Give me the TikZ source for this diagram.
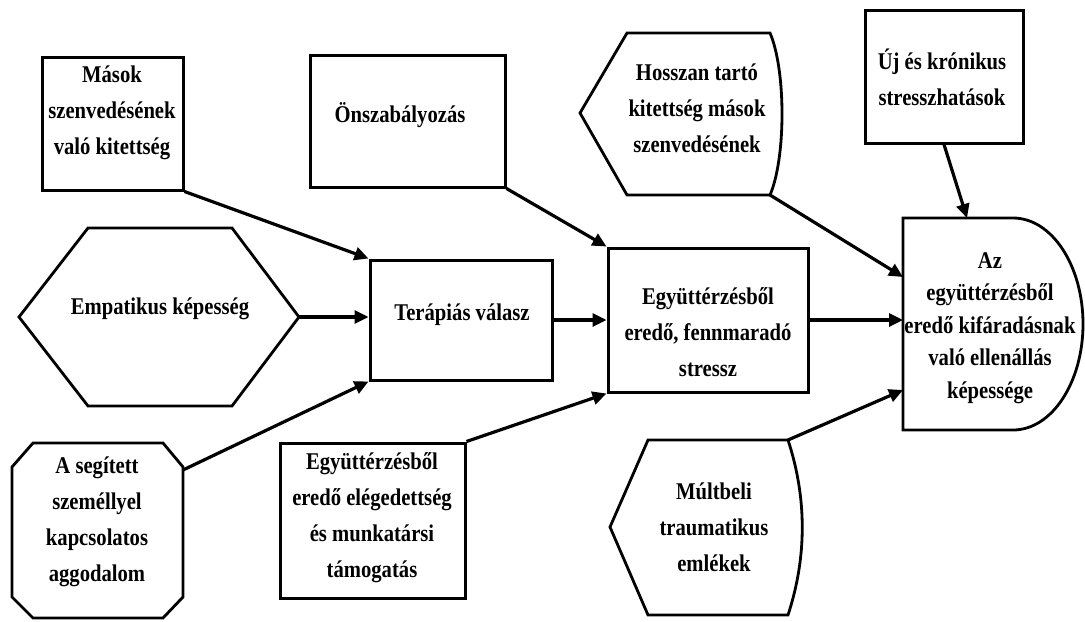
\documentclass[tikz,border=0pt]{standalone}
\usepackage{fontspec}
\setmainfont{Liberation Serif}[FakeStretch=0.86]
\usetikzlibrary{arrows.meta}
\tikzset{
  box/.style={draw, line width=1.5pt, inner sep=0pt},
  shp/.style={line width=1.4pt},
  txt/.style={align=center, inner sep=0pt, font=\bfseries\fontsize{12}{18}\selectfont},
  arr/.style={line width=1.6pt, -{Triangle[length=7pt,width=6.5pt]}},
}
\begin{document}
\begin{tikzpicture}[x=0.5pt,y=-0.5pt]
\useasboundingbox (0,0) rectangle (1085,621);
\node[box, minimum width=70.5pt, minimum height=66.5pt] (masok) at (112.5,123.5) {};
\node[txt] (masok-t) at (112,113) {Mások\\szenvedésének\\való kitettség};
\node[box, minimum width=97.5pt, minimum height=66pt] (onsz) at (407.5,121) {};
\node[txt] (onsz-t) at (400,115) {Önszabályozás};
\node[box, minimum width=79pt, minimum height=66.5pt] (uj) at (944,76.5) {};
\node[txt] (uj-t) at (942,77) {Új és krónikus\\stresszhatások};
\node[box, minimum width=91pt, minimum height=60pt] (terap) at (461,320) {};
\node[txt] (terap-t) at (462,315) {Terápiás válasz};
\node[box, minimum width=100pt, minimum height=72pt] (egyutt) at (708,320) {};
\node[txt] (egyutt-t) at (708,332) {Együttérzésből\\eredő, fennmaradó\\stressz};
\node[box, minimum width=92.5pt, minimum height=77.5pt] (eleg) at (372.5,520.5) {};
\node[txt] (eleg-t) at (372,518) {Együttérzésből\\eredő elégedettség\\és munkatársi\\támogatás};
\draw[shp] (88,228) -- (232,228) -- (299,317) coordinate (emp-e) -- (232,406) -- (88,406) -- (19,317) -- cycle;
\node[txt] (emp-t) at (160,309) {Empatikus képesség};
\draw[shp] (33,443) -- (163,443) -- (183,467) -- (183,597) -- (163,618) -- (33,618) -- (12,597) -- (12,467) -- cycle;
\coordinate (aseg-ne) at (183,470);
\node[txt] (aseg-t) at (97,522) {A segített\\személlyel\\kapcsolatos\\aggodalom};
\draw[shp] (627,33) -- (770,33) .. controls (786,70) and (786,158) .. (770,195) coordinate (hossz-se) -- (627,195) -- (580,113) -- cycle;
\node[txt] (hossz-t) at (697,108) {Hosszan tartó\\kitettség mások\\szenvedésének};
\draw[shp] (648,440) -- (788,440) coordinate (mult-ne) .. controls (807,498) and (807,557) .. (788,615) -- (648,615) -- (610,527) -- cycle;
\node[txt] (mult-t) at (714,527) {Múltbeli\\traumatikus\\emlékek};
\draw[shp] (903,218) -- (1013,218) .. controls (1052,218) and (1083,266) .. (1083,324) .. controls (1083,382) and (1052,430) .. (1013,430) -- (903,430) -- cycle;
\node[txt, font=\bfseries\fontsize{12}{16.3}\selectfont] (az-t) at (990,328) {Az\\együttérzésből\\eredő kifáradásnak\\való ellenállás\\képessége};
\coordinate (az-w1) at (903,277);
\coordinate (az-w2) at (903,320);
\coordinate (az-w3) at (903,390);
\coordinate (az-n) at (967,218);
\draw[arr] (masok.south east) -- (terap.north west);
\draw[arr] (emp-e) -- (emp-e -| terap.west);
\draw[arr] (aseg-ne) -- (terap.south west);
\draw[arr] (onsz.south east) -- (egyutt.north west);
\draw[arr] (terap.east) -- (egyutt.west);
\draw[arr] (eleg.north east) -- (egyutt.south west);
\draw[arr] (hossz-se) -- (az-w1);
\draw[arr] (egyutt.east) -- (az-w2);
\draw[arr] (uj.south) -- (az-n);
\draw[arr] (mult-ne) -- (az-w3);
\end{tikzpicture}
\end{document}
